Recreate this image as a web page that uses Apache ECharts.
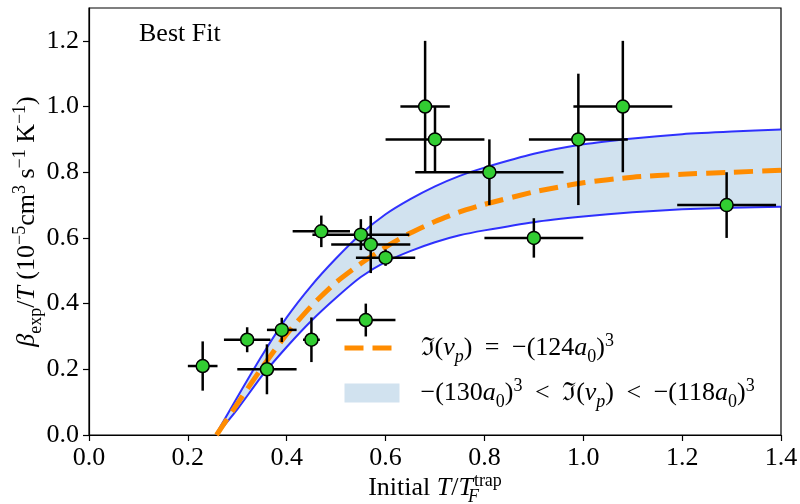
<!DOCTYPE html>
<html>
<head>
<meta charset="utf-8">
<script src="https://cdn.jsdelivr.net/npm/echarts@6/dist/echarts.min.js"></script>
<style>
  html, body { margin: 0; padding: 0; background: #fff; }
  #chart { width: 800px; height: 504px; }
</style>
</head>
<body>
<div id="chart"></div>
<script>
// measured points (x, y) with symmetric error bars
const ptX = [0.23, 0.32, 0.36, 0.39, 0.45, 0.56, 0.47, 0.55, 0.57, 0.60, 0.68, 0.70, 0.81, 0.90, 0.99, 1.08, 1.29]
const ptY = [0.21, 0.29, 0.20, 0.32, 0.29, 0.35, 0.62, 0.61, 0.58, 0.54, 1.00, 0.90, 0.80, 0.60, 0.90, 1.00, 0.70]
const ptXErr = [0.03, 0.047, 0.06, 0.03, 0.017, 0.06, 0.058, 0.098, 0.08, 0.06, 0.05, 0.10, 0.15, 0.10, 0.10, 0.10, 0.10]
const ptYErr = [0.075, 0.038, 0.076, 0.037, 0.068, 0.05, 0.048, 0.047, 0.087, 0.025, 0.20, 0.10, 0.10, 0.06, 0.20, 0.20, 0.10]

// curves, all on the same x grid
const curveX = [0.258, 0.30, 0.35, 0.40, 0.45, 0.50, 0.55, 0.60, 0.65, 0.70, 0.75, 0.80, 0.90, 1.00, 1.10, 1.20, 1.30, 1.40]
// best fit (orange dashed)
const fitY = [0, 0.095, 0.205, 0.307, 0.393, 0.465, 0.522, 0.572, 0.615, 0.65, 0.679, 0.702, 0.740, 0.768, 0.785, 0.794, 0.800, 0.806]
// band edges (blue lines)
const upperY = [0.005, 0.115, 0.242, 0.358, 0.455, 0.538, 0.612, 0.672, 0.718, 0.757, 0.789, 0.814, 0.856, 0.885, 0.903, 0.916, 0.924, 0.930]
const lowerY = [0, 0.078, 0.18, 0.268, 0.348, 0.418, 0.481, 0.527, 0.56, 0.587, 0.608, 0.623, 0.648, 0.665, 0.678, 0.687, 0.692, 0.695]

const xTicks = [0.0, 0.2, 0.4, 0.6, 0.8, 1.0, 1.2, 1.4]
const yTicks = [0.0, 0.2, 0.4, 0.6, 0.8, 1.0, 1.2]

const serif = '"Liberation Serif", "DejaVu Serif", serif'
const FS = 26
const bandColor = '#d1e2ef'
const blue = 'rgba(0,0,255,0.8)'

// rich styles for the math-like labels
const rich = {
  n: { fontFamily: serif, fontSize: FS, lineHeight: 34, color: '#000' },
  i: { fontFamily: serif, fontSize: FS, lineHeight: 34, fontStyle: 'italic', color: '#000' },
  f: { fontFamily: '"DejaVu Serif", serif', fontSize: 25, lineHeight: 34, color: '#000' },
  up: { fontFamily: serif, fontSize: 18, height: 20, lineHeight: 20, verticalAlign: 'top', color: '#000' },
  dn: { fontFamily: serif, fontSize: 18, height: 16, lineHeight: 16, verticalAlign: 'bottom', color: '#000' },
  dni: { fontFamily: serif, fontSize: 18, height: 16, lineHeight: 16, verticalAlign: 'bottom', fontStyle: 'italic', color: '#000' },
  dnz: { fontFamily: serif, fontSize: 18, height: 16, lineHeight: 16, verticalAlign: 'bottom', fontStyle: 'italic', color: '#000', width: 1 },
  sp: { fontSize: 10, width: 16, lineHeight: 34 },
  gap: { fontSize: 10, width: 6, lineHeight: 34 }
}

const legendText = {
  fit: '{sp| }{f|ℑ}{n|(}{i|v}{dni|p}{n|)}{gap| }{n| = }{gap| }{n|−(124}{i|a}{dn|0}{n|)}{up|3}',
  band: '{sp| }{n|−(130}{i|a}{dn|0}{n|)}{up|3}{gap| }{n| < }{gap| }{f|ℑ}{n|(}{i|v}{dni|p}{n|)}{gap| }{n| < }{gap| }{n|−(118}{i|a}{dn|0}{n|)}{up|3}'
}

const zip = (xs, ys) => xs.map((x, i) => [x, ys[i]])

const chart = echarts.init(document.getElementById('chart'))

const option = {
  animation: false,
  backgroundColor: '#fff',
  grid: {
    left: 89,
    right: 19,
    top: 8,
    bottom: 69,
    outerBoundsMode: 'none',
    containLabel: false,
    show: true,
    borderColor: '#000',
    borderWidth: 1.2,
    backgroundColor: 'transparent'
  },
  legend: {
    orient: 'vertical',
    left: 342,
    top: 331,
    padding: 0,
    itemWidth: 55,
    itemHeight: 19,
    itemGap: 10,
    selectedMode: false,
    data: [
      { name: 'fit', itemStyle: { opacity: 0 }, lineStyle: { width: 5 } },
      { name: 'band', icon: 'rect' }
    ],
    formatter: (name) => legendText[name],
    textStyle: { rich: rich }
  },
  xAxis: {
    type: 'value',
    min: 0,
    max: 1.4,
    interval: 0.2,
    name: '{n|Initial }{i|T}{n|/}{i|T}{dnz|F}{up|trap}',
    nameLocation: 'middle',
    nameGap: 36,
    nameMoveOverlap: false,
    nameTextStyle: { rich: rich },
    axisLine: { lineStyle: { color: '#000', width: 1.2 } },
    axisTick: { length: 6, customValues: xTicks, lineStyle: { color: '#000', width: 1.2 } },
    axisLabel: {
      customValues: xTicks,
      formatter: (v) => v.toFixed(1),
      fontFamily: serif,
      fontSize: FS,
      color: '#000',
      margin: 10
    },
    splitLine: { show: false }
  },
  yAxis: {
    type: 'value',
    min: 0,
    max: 1.3,
    interval: 0.2,
    name: '{i|β}{dn|exp}{n|/}{i|T}{n| (10}{up|−5}{n|cm}{up|3}{n| s}{up|−1}{n| K}{up|−1}{n|)}',
    nameLocation: 'middle',
    nameGap: 45,
    nameMoveOverlap: false,
    nameTextStyle: { rich: rich },
    axisLine: { lineStyle: { color: '#000', width: 1.2 } },
    axisTick: { length: 6, customValues: yTicks, lineStyle: { color: '#000', width: 1.2 } },
    axisLabel: {
      customValues: yTicks,
      formatter: (v) => v.toFixed(1),
      fontFamily: serif,
      fontSize: FS,
      color: '#000',
      margin: 10
    },
    splitLine: { show: false }
  },
  graphic: [
    {
      type: 'text',
      left: 139,
      top: 21,
      style: { text: 'Best Fit', fill: '#000', font: FS + 'px ' + serif }
    }
  ],
  series: [
    {
      // shaded band between the two blue curves
      name: 'band',
      type: 'custom',
      z: 1,
      clip: true,
      itemStyle: { color: bandColor },
      data: zip(curveX, upperY),
      encode: { x: 0, y: 1 },
      renderItem: (params, api) => {
        if (params.dataIndex !== 0) return null
        const pts = curveX.map((x, i) => api.coord([x, upperY[i]]))
        for (let i = curveX.length - 1; i >= 0; i--) {
          pts.push(api.coord([curveX[i], lowerY[i]]))
        }
        return {
          type: 'polygon',
          shape: { points: pts },
          style: { fill: bandColor, stroke: null }
        }
      }
    },
    {
      name: 'upper',
      type: 'line',
      z: 2,
      data: zip(curveX, upperY),
      showSymbol: false,
      smooth: 0.2,
      lineStyle: { color: blue, width: 2 }
    },
    {
      name: 'lower',
      type: 'line',
      z: 2,
      data: zip(curveX, lowerY),
      showSymbol: false,
      smooth: 0.2,
      lineStyle: { color: blue, width: 2 }
    },
    {
      name: 'fit',
      type: 'line',
      z: 3,
      data: zip(curveX, fitY),
      showSymbol: false,
      smooth: 0.2,
      itemStyle: { color: '#ff8c00' },
      lineStyle: { color: '#ff8c00', width: 5, type: [19, 9] }
    },
    {
      name: 'errors',
      type: 'custom',
      z: 4,
      data: ptX.map((x, i) => [x, ptY[i], ptXErr[i], ptYErr[i]]),
      encode: { x: 0, y: 1 },
      renderItem: (params, api) => {
        const x = api.value(0)
        const y = api.value(1)
        const dx = api.value(2)
        const dy = api.value(3)
        const l = api.coord([x - dx, y])
        const r = api.coord([x + dx, y])
        const b = api.coord([x, y - dy])
        const t = api.coord([x, y + dy])
        const st = { stroke: '#000', lineWidth: 2.5 }
        return {
          type: 'group',
          children: [
            { type: 'line', shape: { x1: l[0], y1: l[1], x2: r[0], y2: r[1] }, style: st },
            { type: 'line', shape: { x1: b[0], y1: b[1], x2: t[0], y2: t[1] }, style: st }
          ]
        }
      }
    },
    {
      name: 'data',
      type: 'scatter',
      z: 5,
      data: zip(ptX, ptY),
      symbolSize: 13,
      itemStyle: { color: '#32cd32', borderColor: '#000', borderWidth: 1.5, opacity: 1 }
    }
  ]
}

chart.setOption(option)
</script>
</body>
</html>
